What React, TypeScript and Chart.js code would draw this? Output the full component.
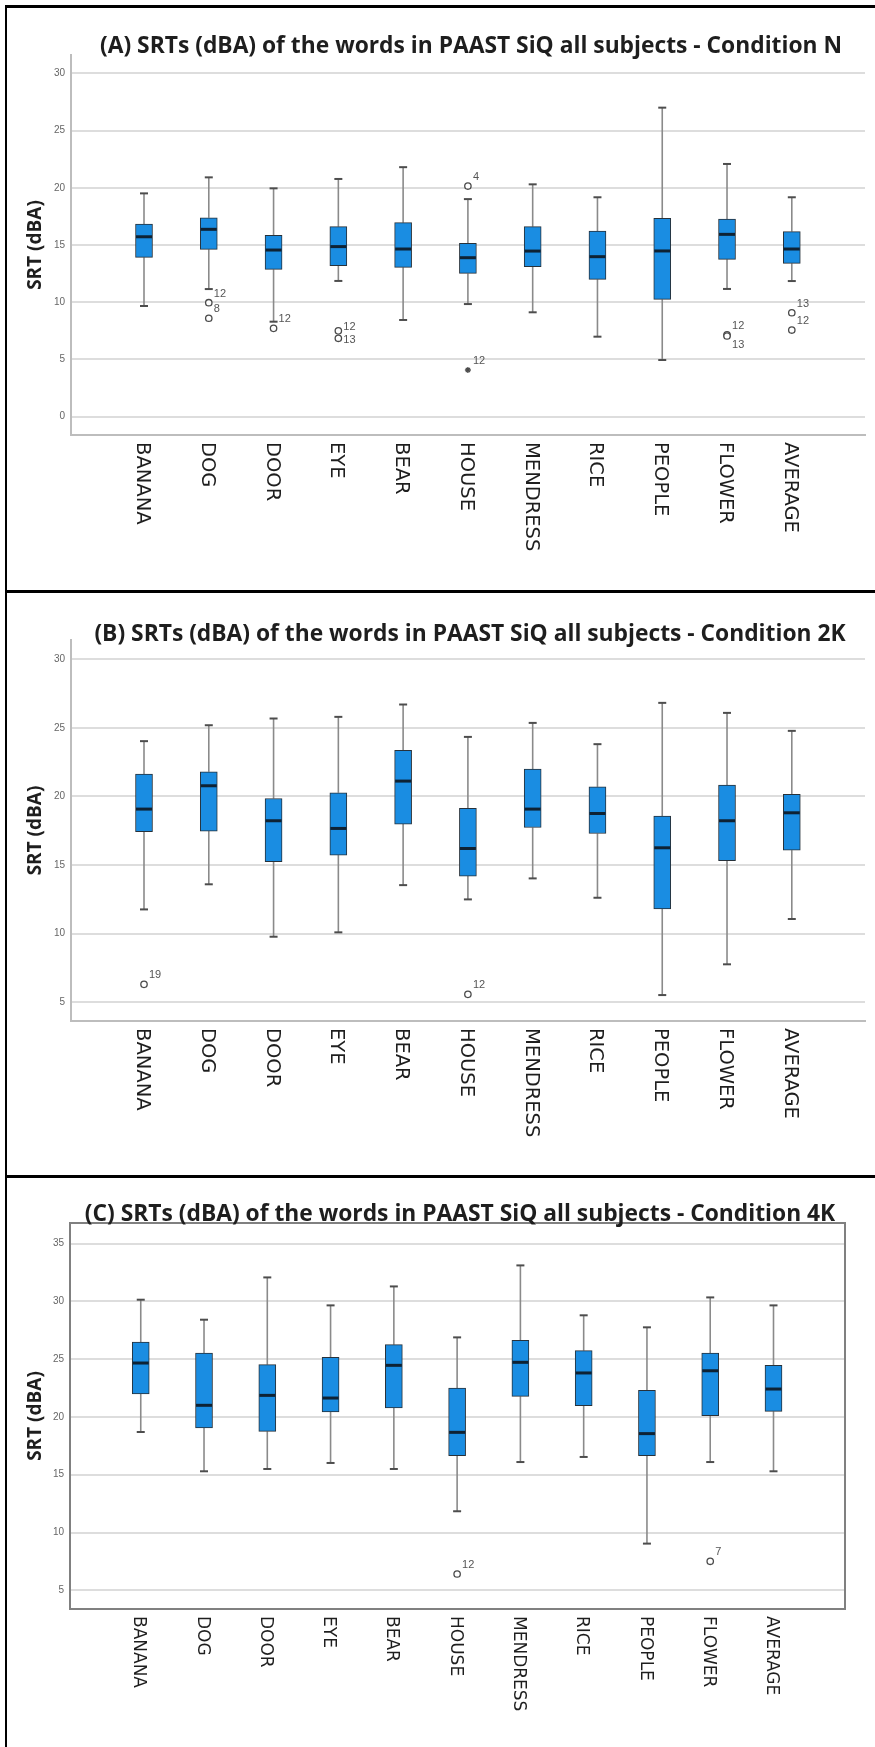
import React, { useEffect, useRef } from 'react';
import { Chart, registerables } from 'chart.js';

Chart.register(...registerables);

// ---- data -------------------------------------------------------------
const categories = ['BANANA', 'DOG', 'DOOR', 'EYE', 'BEAR', 'HOUSE', 'MENDRESS', 'RICE', 'PEOPLE', 'FLOWER', 'AVERAGE'];

// Condition N (dBA)
const minN = [9.67, 11.15, 8.3, 11.86, 8.45, 9.84, 9.12, 6.99, 4.95, 11.16, 11.85];
const q1N = [13.92, 14.62, 12.87, 13.2, 13.05, 12.52, 13.1, 12.0, 10.25, 13.75, 13.4];
const medianN = [15.72, 16.37, 14.56, 14.86, 14.65, 13.89, 14.47, 13.98, 14.48, 15.93, 14.65];
const q3N = [16.83, 17.38, 15.84, 16.6, 16.95, 15.14, 16.6, 16.22, 17.33, 17.27, 16.17];
const maxN = [19.51, 20.91, 19.95, 20.77, 21.8, 19.01, 20.3, 19.17, 27.0, 22.08, 19.17];
const outlierCatN = [1, 1, 2, 3, 3, 5, 5, 9, 9, 10, 10];
const outlierValN = [9.96, 8.6, 7.72, 7.5, 6.85, 20.15, 4.08, 7.15, 7.05, 9.08, 7.57];
const outlierIdN = ['12', '8', '12', '12', '13', '4', '12', '12', '13', '13', '12'];
const outlierExtremeN = [false, false, false, false, false, false, true, false, false, false, false];
const ticksN = [0, 5, 10, 15, 20, 25, 30];

// Condition 2K (dBA)
const min2K = [11.77, 13.6, 9.78, 10.1, 13.54, 12.5, 14.03, 12.62, 5.53, 7.77, 11.07];
const q12K = [17.43, 17.48, 15.24, 15.73, 17.99, 14.2, 17.74, 17.3, 11.8, 15.32, 16.09];
const median2K = [19.08, 20.78, 18.23, 17.67, 21.12, 16.21, 19.08, 18.76, 16.26, 18.23, 18.81];
const q32K = [21.63, 21.8, 19.85, 20.27, 23.37, 19.13, 21.99, 20.7, 18.57, 20.83, 20.15];
const max2K = [24.03, 25.19, 25.68, 25.8, 26.7, 24.34, 25.36, 23.81, 26.82, 26.09, 24.78];
const outlierCat2K = [0, 5];
const outlierVal2K = [6.31, 5.58];
const outlierId2K = ['19', '12'];
const outlierExtreme2K = [false, false];
const ticks2K = [5, 10, 15, 20, 25, 30];

// Condition 4K (dBA)
const min4K = [18.7, 15.3, 15.5, 16.02, 15.5, 11.84, 16.1, 16.54, 9.04, 16.1, 15.3];
const q14K = [21.99, 19.05, 18.76, 20.43, 20.78, 16.65, 21.79, 20.98, 16.65, 20.11, 20.49];
const median4K = [24.67, 21.01, 21.87, 21.64, 24.47, 18.67, 24.73, 23.81, 18.56, 24.0, 22.42];
const q34K = [26.49, 25.54, 24.53, 25.16, 26.26, 22.51, 26.63, 25.74, 22.31, 25.54, 24.47];
const max4K = [30.15, 28.42, 32.08, 29.66, 31.3, 26.89, 33.12, 28.8, 27.76, 30.35, 29.66];
const outlierCat4K = [5, 9];
const outlierVal4K = [6.41, 7.51];
const outlierId4K = ['12', '7'];
const outlierExtreme4K = [false, false];
const ticks4K = [5, 10, 15, 20, 25, 30, 35];

// ---- styling ----------------------------------------------------------
const PAGE_W = 875;
const BOX_FILL = '#1a8de2';
const BOX_EDGE = '#27313a';
const MEDIAN = '#0e2234';
const WHISKER = '#8a8a8a';
const CAP = '#4d4d4d';
const GRID = '#dddddd';
const TITLE_FONT = "bold 22.8px 'Open Sans', 'DejaVu Sans', sans-serif";
const YTITLE_FONT = "bold 19px 'Open Sans', 'DejaVu Sans', sans-serif";
const SMALL_FONT = "11px 'Liberation Sans', Arial, sans-serif";

interface PanelSpec {
  title: string;
  top: number;
  height: number;
  area: { left: number; right: number; top: number; bottom: number };
  xRange: [number, number];
  yRange: [number, number];
  ticks: number[];
  mins: number[];
  q1: number[];
  medians: number[];
  q3: number[];
  maxs: number[];
  outCat: number[];
  outVal: number[];
  outId: string[];
  outExtreme: boolean[];
  titleX: number;
  titleBaseline: number;
  labelFont: string;
  framed: boolean;
  axisColor: string;
}

const panels: PanelSpec[] = [
  {
    title: '(A) SRTs (dBA) of the words in PAAST SiQ all subjects - Condition N',
    top: 0, height: 592,
    area: { left: 71, right: 865, top: 55, bottom: 435 },
    xRange: [-1.127, 11.13], yRange: [-1.6, 31.6], ticks: ticksN,
    mins: minN, q1: q1N, medians: medianN, q3: q3N, maxs: maxN,
    outCat: outlierCatN, outVal: outlierValN, outId: outlierIdN, outExtreme: outlierExtremeN,
    titleX: 471, titleBaseline: 53, labelFont: "19.5px 'DejaVu Sans', Verdana, sans-serif",
    framed: false, axisColor: '#bdbdbd',
  },
  {
    title: '(B) SRTs (dBA) of the words in PAAST SiQ all subjects - Condition 2K',
    top: 592, height: 585,
    area: { left: 71, right: 865, top: 640, bottom: 1021 },
    xRange: [-1.127, 11.13], yRange: [3.64, 31.4], ticks: ticks2K,
    mins: min2K, q1: q12K, medians: median2K, q3: q32K, maxs: max2K,
    outCat: outlierCat2K, outVal: outlierVal2K, outId: outlierId2K, outExtreme: outlierExtreme2K,
    titleX: 470, titleBaseline: 641, labelFont: "19.5px 'DejaVu Sans', Verdana, sans-serif",
    framed: false, axisColor: '#bdbdbd',
  },
  {
    title: '(C) SRTs (dBA) of the words in PAAST SiQ all subjects - Condition 4K',
    top: 1177, height: 570,
    area: { left: 70, right: 845, top: 1223, bottom: 1609 },
    xRange: [-1.118, 11.13], yRange: [3.38, 36.79], ticks: ticks4K,
    mins: min4K, q1: q14K, medians: median4K, q3: q34K, maxs: max4K,
    outCat: outlierCat4K, outVal: outlierVal4K, outId: outlierId4K, outExtreme: outlierExtreme4K,
    titleX: 460, titleBaseline: 1221, labelFont: "17px 'DejaVu Sans', Verdana, sans-serif",
    framed: true, axisColor: '#808080',
  },
];

// ---- drawing helpers --------------------------------------------------
function seg(ctx: CanvasRenderingContext2D, x1: number, y1: number, x2: number, y2: number) {
  ctx.beginPath();
  ctx.moveTo(x1, y1);
  ctx.lineTo(x2, y2);
  ctx.stroke();
}

function boxDecor(spec: PanelSpec) {
  return {
    id: 'boxDecor',
    beforeDatasetsDraw(chart: any) {
      const { ctx, scales } = chart;
      const x = scales.x, y = scales.y;
      ctx.save();
      categories.forEach((_, i) => {
        const cx = x.getPixelForValue(i);
        const yMax = y.getPixelForValue(spec.maxs[i]);
        const yMin = y.getPixelForValue(spec.mins[i]);
        ctx.strokeStyle = WHISKER;
        ctx.lineWidth = 1.6;
        seg(ctx, cx, y.getPixelForValue(spec.q3[i]), cx, yMax);
        seg(ctx, cx, y.getPixelForValue(spec.q1[i]), cx, yMin);
        ctx.strokeStyle = CAP;
        ctx.lineWidth = 2;
        seg(ctx, cx - 4, yMax, cx + 4, yMax);
        seg(ctx, cx - 4, yMin, cx + 4, yMin);
      });
      ctx.restore();
    },
    afterDatasetsDraw(chart: any) {
      const { ctx, scales } = chart;
      const x = scales.x, y = scales.y;
      ctx.save();
      ctx.strokeStyle = MEDIAN;
      ctx.lineWidth = 3;
      categories.forEach((_, i) => {
        const cx = x.getPixelForValue(i);
        const ym = y.getPixelForValue(spec.medians[i]);
        seg(ctx, cx - 8, ym, cx + 8, ym);
      });
      ctx.restore();
    },
    afterDraw(chart: any) {
      const { ctx, scales, chartArea } = chart;
      const x = scales.x, y = scales.y;
      ctx.save();

      if (spec.framed) {
        ctx.strokeStyle = spec.axisColor;
        ctx.lineWidth = 2;
        ctx.strokeRect(chartArea.left, chartArea.top, chartArea.right - chartArea.left, chartArea.bottom - chartArea.top);
      }

      // case numbers beside outliers
      ctx.font = SMALL_FONT;
      ctx.fillStyle = '#555';
      ctx.textAlign = 'left';
      ctx.textBaseline = 'middle';
      spec.outVal.forEach((v, k) => {
        const px = x.getPixelForValue(spec.outCat[k]);
        const py = y.getPixelForValue(v);
        let dy = -9;
        spec.outVal.forEach((w, j) => {
          if (j === k || spec.outCat[j] !== spec.outCat[k]) return;
          const gap = y.getPixelForValue(w) - py;
          if (Math.abs(gap) < 4) dy = gap >= 0 && j > k ? -9 : 9;
          else if (Math.abs(gap) < 14) dy = gap > 0 ? -4 : 2;
        });
        ctx.fillText(spec.outId[k], px + 5, py + dy);
      });

      // category labels, rotated to read downward
      ctx.font = spec.labelFont;
      ctx.fillStyle = '#1e1e1e';
      categories.forEach((name, i) => {
        const px = x.getPixelForValue(i) - 2;
        ctx.save();
        ctx.translate(px, chartArea.bottom + 7);
        ctx.rotate(Math.PI / 2);
        ctx.textAlign = 'left';
        ctx.textBaseline = 'middle';
        ctx.fillText(name, 0, 0);
        ctx.restore();
      });

      // axis title
      ctx.save();
      ctx.font = YTITLE_FONT;
      ctx.fillStyle = '#1e1e1e';
      ctx.translate(36, (chartArea.top + chartArea.bottom) / 2);
      ctx.rotate(-Math.PI / 2);
      ctx.textAlign = 'center';
      ctx.textBaseline = 'middle';
      ctx.fillText('SRT (dBA)', 0, 0);
      ctx.restore();

      // chart title
      ctx.font = TITLE_FONT;
      ctx.fillStyle = '#1e1e1e';
      ctx.textAlign = 'center';
      ctx.textBaseline = 'alphabetic';
      ctx.fillText(spec.title, spec.titleX, spec.titleBaseline - spec.top);

      ctx.restore();
    },
  };
}

function BoxPanel({ spec }: { spec: PanelSpec }) {
  const ref = useRef<HTMLCanvasElement>(null);

  useEffect(() => {
    const canvas = ref.current;
    if (!canvas) return;
    const { area, top, height } = spec;
    const chart = new Chart(canvas, {
      type: 'bar',
      data: {
        datasets: [
          {
            type: 'scatter',
            data: spec.outVal.map((v, k) => ({ x: spec.outCat[k], y: v })),
            pointStyle: spec.outExtreme.map((e) => (e ? 'star' : 'circle')),
            pointRadius: spec.outExtreme.map((e) => (e ? 3 : 3.2)),
            backgroundColor: '#ffffff',
            borderColor: '#4a4a4a',
            borderWidth: 1.3,
          } as any,
          {
            type: 'bar',
            data: categories.map((_, i) => ({ x: i, y: [spec.q1[i], spec.q3[i]] })),
            backgroundColor: BOX_FILL,
            borderColor: BOX_EDGE,
            borderWidth: 1,
            borderSkipped: false,
            barThickness: 17,
          } as any,
        ],
      },
      options: {
        responsive: false,
        animation: false,
        events: [],
        layout: {
          padding: {
            left: 0,
            top: area.top - top,
            right: PAGE_W - area.right,
            bottom: top + height - area.bottom,
          },
        },
        plugins: {
          legend: { display: false },
          tooltip: { enabled: false },
          title: { display: false },
        },
        scales: {
          x: {
            type: 'linear',
            min: spec.xRange[0],
            max: spec.xRange[1],
            offset: false,
            bounds: 'data',
            grid: { display: false, drawTicks: false },
            ticks: { display: false },
            border: { display: true, color: spec.axisColor, width: 2 },
            afterFit: (s: any) => { s.height = 0; },
          },
          y: {
            type: 'linear',
            min: spec.yRange[0],
            max: spec.yRange[1],
            beginAtZero: false,
            bounds: 'data',
            afterBuildTicks: (s: any) => { s.ticks = spec.ticks.map((v) => ({ value: v })); },
            grid: { color: GRID, lineWidth: 2, drawTicks: false },
            border: { display: true, color: spec.axisColor, width: 2 },
            ticks: {
              padding: 6,
              color: '#666',
              font: { family: "'Liberation Sans', Arial, sans-serif", size: 10 },
            },
            afterFit: (s: any) => { s.width = area.left; },
          },
        },
      } as any,
      plugins: [boxDecor(spec)],
    });
    return () => chart.destroy();
  }, [spec]);

  return (
    <canvas
      ref={ref}
      width={PAGE_W}
      height={spec.height}
      style={{ position: 'absolute', left: 0, top: spec.top, width: PAGE_W, height: spec.height }}
    />
  );
}

export default function App() {
  const rule = (style: React.CSSProperties) => (
    <div style={{ position: 'absolute', background: '#000', ...style }} />
  );
  return (
    <div style={{ position: 'absolute', left: 0, top: 0, width: PAGE_W, height: 1747, background: '#fff', overflow: 'hidden' }}>
      {panels.map((p, i) => (
        <BoxPanel key={i} spec={p} />
      ))}
      {rule({ left: 5, top: 5, width: PAGE_W - 5, height: 2.5 })}
      {rule({ left: 4.5, top: 5, width: 2.5, height: 1742 })}
      {rule({ left: 5, top: 590, width: PAGE_W - 5, height: 3 })}
      {rule({ left: 5, top: 1175, width: PAGE_W - 5, height: 3 })}
    </div>
  );
}
